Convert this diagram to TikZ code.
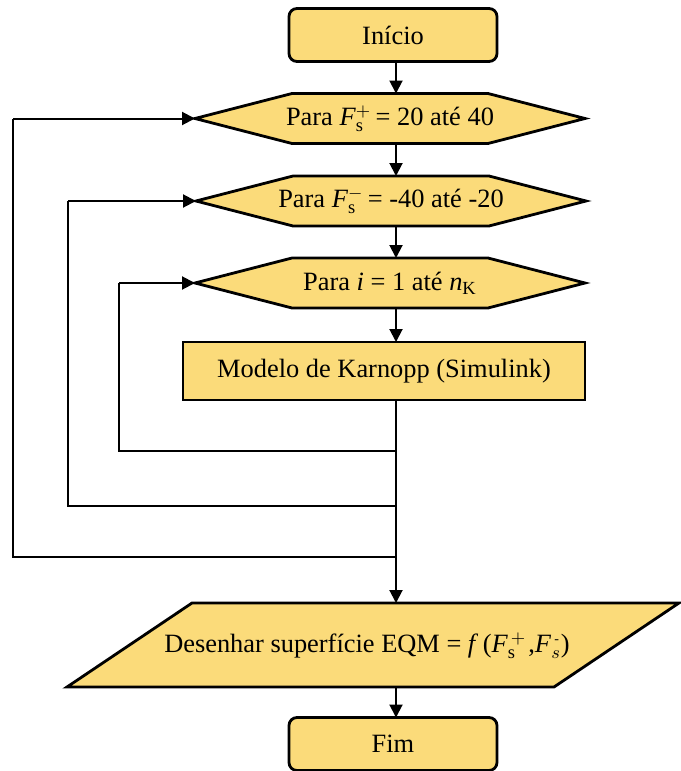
\documentclass[tikz,border=0pt]{standalone}
\usepackage{fontspec}
\setmainfont{Liberation Serif}
\usetikzlibrary{arrows.meta,backgrounds}

\definecolor{boxfill}{RGB}{251,219,122}

% subscripted force symbols
\newcommand{\Fsplus}{\textit{F}$_{\mathrm{s}}^{+}$}
\newcommand{\Fsminus}{\textit{F}$_{\mathrm{s}}^{-}$}

\begin{document}
\begin{tikzpicture}[x=0.5pt,y=-0.5pt,
  font=\fontsize{13.2}{15}\selectfont,
  outline/.style={draw=black, line width=1.4pt, fill=boxfill, line join=miter},
  terminal/.style={outline, rounded corners=4pt, minimum width=104pt, minimum height=26.5pt, inner sep=0pt, outer sep=0pt},
  process/.style={outline, minimum width=201pt, minimum height=29pt, inner sep=0pt, outer sep=0pt},
  loopbox/.style={minimum width=195pt, minimum height=25pt, inner sep=0pt, outer sep=0pt},
  iobox/.style={minimum width=306pt, minimum height=42pt, inner sep=0pt, outer sep=0pt},
  flow/.style={line width=1pt, -{Triangle[length=6.5pt,width=6.5pt]}},
  wire/.style={line width=1pt},
]
\useasboundingbox (0,0) rectangle (680,771);

% column of the main flow line
\coordinate (sp) at (396,0);

% nodes
\node[terminal] (ini) at (393,35) {Início};
\node[loopbox] (h1) at (390,118.5) {Para \Fsplus\,= 20 até 40};
\node[loopbox] (h2) at (391,201) {Para \Fsminus\,= -40 até -20};
\node[loopbox] (h3) at (390,283) {Para \textit{i} = 1 até \textit{n}$_{\mathrm{K}}$};
\node[process] (mo) at (384,371) {Modelo de Karnopp (Simulink)};
\node[iobox] (pa) at (373,645) {};
\node (pat) at (367,646) {Desenhar superfície EQM = \textit{f}\,(\textit{F}$_{\mathrm{s}}^{\,+}$\kern1pt,\textit{F}$_{s}^{\,\mbox{\scriptsize -}}$)};
\node[terminal] (fim) at (393,744) {Fim};

% hexagon and parallelogram outlines behind their texts
\begin{scope}[on background layer]
  \foreach \h in {h1,h2,h3}{
    \draw[outline] (\h.west) -- ([xshift=48.5pt]\h.north west) -- ([xshift=-48.5pt]\h.north east)
      -- (\h.east) -- ([xshift=-48.5pt]\h.south east) -- ([xshift=48.5pt]\h.south west) -- cycle;
  }
  \draw[outline] (pa.south west) -- ([xshift=-62.5pt]pa.south east) -- (pa.north east)
    -- ([xshift=62.5pt]pa.north west) -- cycle;
\end{scope}

% main flow
\draw[flow] (ini.south -| sp) -- (h1.north -| sp);
\draw[flow] (h1.south -| sp) -- (h2.north -| sp);
\draw[flow] (h2.south -| sp) -- (h3.north -| sp);
\draw[flow] (h3.south -| sp) -- (mo.north -| sp);
\draw[flow] (mo.south -| sp) -- (pa.north -| sp);
\draw[flow] (pa.south -| sp) -- (fim.north -| sp);

% loop returns
\coordinate (j3) at (396,451);
\coordinate (j2) at (396,506);
\coordinate (j1) at (396,557);
\coordinate (c3) at (119,0);
\coordinate (c2) at (68,0);
\coordinate (c1) at (13,0);
\draw[wire] (j3) -| (c3 |- h3.west);
\draw[flow] (c3 |- h3.west) -- (h3.west);
\draw[wire] (j2) -| (c2 |- h2.west);
\draw[flow] (c2 |- h2.west) -- (h2.west);
\draw[wire] (j1) -| (c1 |- h1.west);
\draw[flow] (c1 |- h1.west) -- (h1.west);
\end{tikzpicture}
\end{document}
